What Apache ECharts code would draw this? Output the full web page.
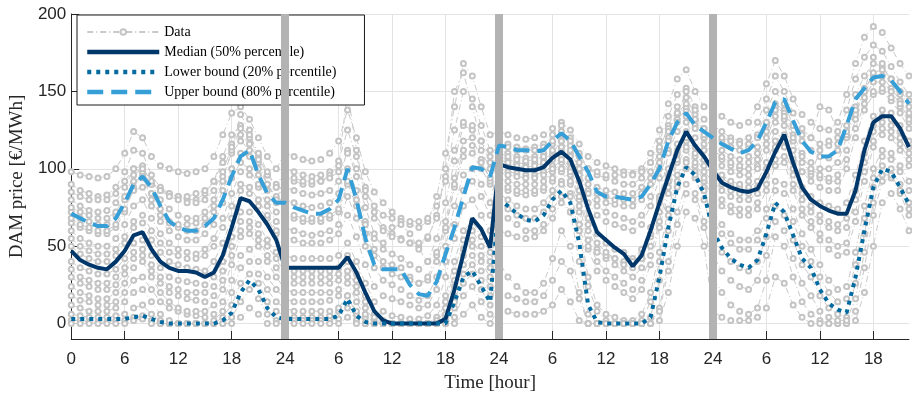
<!DOCTYPE html>
<html>
<head>
<meta charset="utf-8">
<script src="https://cdn.jsdelivr.net/npm/echarts@6/dist/echarts.min.js"></script>
<style>html,body{margin:0;padding:0;background:#fff}#c{width:912px;height:401px}</style>
</head>
<body>
<div id="c"></div>
<script>
// Time index [hour], four consecutive days (last day truncated)
var hours = [0,1,2,3,4,5,6,7,8,9,10,11,12,13,14,15,16,17,18,19,20,21,22,23,
24,25,26,27,28,29,30,31,32,33,34,35,36,37,38,39,40,41,42,43,44,45,46,47,
48,49,50,51,52,53,54,55,56,57,58,59,60,61,62,63,64,65,66,67,68,69,70,71,
72,73,74,75,76,77,78,79,80,81,82,83,84,85,86,87,88,89,90,91,92,93,94];
var xTicks = [0,6,12,18,24,30,36,42,48,54,60,66,72,78,84,90];
var yTicks = [0,50,100,150,200];
var dayBoundaries = [24,48,72];

var median = [47,41,38,36,35,40,47,57,59,48,40,36,34,34,33,30,33,44,62,81,79,72,64,54,
36,36,36,36,36,36,36,43,33,20,8,2,0,0,0,0,0,0,3,22,45,68,61,49,
103,101,100,99,99,101,107,111,106,92,74,59,54,49,45,37,44,60,78,95,112,124,115,108,
99,91,88,86,85,87,98,111,122,104,88,80,76,73,71,71,86,112,130,134,134,126,114];

var lower = [3,3,3,3,3,3,3,4,5,3,1,0,0,0,0,0,0,2,7,20,28,22,10,4,
3,3,3,3,3,3,5,16,5,1,0,0,0,0,0,0,0,0,0,14,30,34,24,14,
80,76,71,67,66,70,80,86,78,52,12,1,0,0,0,0,0,4,30,62,88,101,96,84,
60,49,42,38,36,41,58,78,72,57,42,36,22,13,9,7,30,60,88,100,98,88,77];

var upper = [71,68,65,63,63,68,78,90,95,88,76,66,62,60,60,63,68,80,95,108,112,96,84,78,
78,75,73,71,71,74,80,100,80,55,38,35,35,35,25,19,18,27,45,62,82,101,100,95,
115,114,112,112,111,112,118,123,118,108,98,85,82,82,81,80,82,90,100,118,130,136,128,124,
120,116,113,110,112,118,130,143,145,131,118,111,108,108,112,128,145,152,159,160,157,150,142];

// Individual price scenarios (gray "Data" curves)
var data01 = [98,96,95,94,95,100,110,124,120,108,102,100,98,97,98,100,108,122,136,140,132,120,108,100,
110,108,106,105,106,110,118,138,120,98,85,78,72,68,64,62,66,82,110,140,168,160,140,122,
124,122,120,119,120,122,126,130,125,116,108,104,102,100,98,97,100,110,125,142,158,164,150,140,
138,134,130,128,130,140,155,170,160,145,135,130,126,125,130,148,168,185,192,188,178,168,160];
var data02 = [90,86,84,82,83,88,98,112,110,96,88,84,82,80,80,84,92,108,122,128,120,108,96,88,
100,98,96,95,96,98,105,125,108,88,72,62,58,55,52,50,55,70,95,125,150,145,128,112,
118,116,114,113,114,116,122,128,120,110,100,96,94,92,90,90,94,104,118,134,148,152,140,132,
128,124,120,118,120,130,145,160,150,136,126,120,116,115,120,138,158,172,180,176,166,156,148];
var data03 = [80,76,73,72,73,78,88,100,102,90,80,74,70,68,68,72,80,95,110,118,112,100,90,82,
88,86,84,83,84,86,92,112,95,75,58,48,45,42,38,35,40,55,78,105,128,125,112,100,
112,110,108,107,108,110,116,122,115,104,94,88,86,85,84,84,88,98,112,128,140,146,135,126,
122,118,114,112,114,122,138,150,142,128,118,112,108,107,112,128,148,160,168,166,158,150,140];
var data04 = [72,68,66,64,64,70,80,92,94,84,74,66,62,60,60,64,72,86,100,110,108,96,86,78,
80,78,76,75,76,78,84,100,86,66,48,40,38,36,30,26,28,40,60,88,108,110,100,90,
108,106,104,103,104,106,110,118,110,98,86,80,78,77,76,76,80,90,104,120,132,138,128,120,
116,112,108,106,108,114,128,142,138,122,110,104,100,100,104,120,140,152,160,160,152,144,134];
var data05 = [60,55,52,50,50,55,64,76,80,68,58,52,48,46,45,48,55,68,84,98,96,88,76,66,
62,60,58,57,58,60,64,82,68,50,36,28,25,22,18,15,18,30,50,76,96,100,90,78,
104,102,100,99,100,102,106,112,104,92,78,70,66,64,62,60,64,76,94,112,124,130,120,112,
106,102,98,96,96,102,116,130,128,112,98,92,88,86,86,100,120,138,148,150,144,136,126];
var data06 = [50,45,42,40,40,44,52,62,65,54,46,40,38,36,35,34,40,52,68,86,84,76,68,58,
44,42,42,42,42,42,44,52,40,26,14,8,5,4,3,3,5,12,30,55,76,80,70,60,
100,98,97,96,96,98,102,108,100,86,68,58,52,48,46,42,48,62,82,100,116,124,114,106,
100,94,90,88,88,92,104,118,122,104,88,82,78,76,74,78,96,118,134,138,136,128,118];
var data07 = [40,36,34,32,32,35,42,52,54,44,36,30,28,27,26,25,30,40,56,72,72,64,54,46,
36,34,34,34,34,34,36,44,32,18,6,2,0,0,0,0,0,4,18,40,60,66,56,46,
94,92,90,90,90,92,98,104,96,80,60,48,42,38,34,30,36,50,72,92,110,118,108,98,
92,86,82,80,80,84,96,112,114,96,80,72,66,62,60,62,80,104,124,130,128,120,110];
var data08 = [30,26,24,22,22,25,32,42,44,34,26,20,18,16,15,14,18,28,44,60,62,54,44,36,
28,26,26,26,26,26,28,34,24,10,2,0,0,0,0,0,0,0,10,28,48,54,44,36,
88,86,84,83,84,86,92,98,90,72,48,34,28,24,20,16,22,38,62,84,104,112,102,92,
82,76,72,70,70,74,86,102,104,86,70,62,54,48,44,46,66,92,114,122,120,112,102];
var data09 = [18,15,14,12,12,14,20,28,30,22,14,10,8,6,5,4,6,14,28,44,48,40,30,22,
16,14,14,14,14,15,18,26,14,4,0,0,0,0,0,0,0,0,4,18,38,44,34,24,
84,80,76,74,74,78,86,92,84,64,30,12,6,4,2,2,6,20,46,74,96,106,98,88,
72,64,58,54,54,60,74,92,90,74,58,48,38,28,22,24,46,76,100,112,110,102,92];
var data10 = [6,5,4,4,4,5,6,10,12,6,2,0,0,0,0,0,0,4,12,26,32,26,14,8,
5,4,4,4,4,5,8,18,6,0,0,0,0,0,0,0,0,0,0,10,26,32,22,12,
72,68,64,60,60,64,74,82,72,40,6,0,0,0,0,0,0,4,28,60,88,100,94,80,
58,46,40,36,34,40,56,76,70,54,38,30,18,10,6,4,26,58,88,102,100,90,78];
var data11 = [2,2,1,1,1,2,2,4,5,2,0,0,0,0,0,0,0,0,4,14,22,16,6,2,
2,2,2,2,2,2,3,10,2,0,0,0,0,0,0,0,0,0,0,4,18,24,14,6,
40,30,24,20,20,26,42,60,50,20,0,0,0,0,0,0,0,0,10,40,72,90,84,66,
30,20,12,8,6,10,28,56,50,30,14,6,2,0,0,0,8,36,70,92,94,84,70];
var data12 = [0,0,0,0,0,0,0,2,3,0,0,0,0,0,0,0,0,0,0,4,10,6,0,0,
0,0,0,0,0,0,0,4,0,0,0,0,0,0,0,0,0,0,0,0,6,12,4,0,
10,8,6,6,6,8,12,22,14,2,0,0,0,0,0,0,0,0,2,20,50,72,68,50,
8,4,2,2,2,4,10,30,26,12,4,0,0,0,0,0,2,20,50,78,84,74,60];
var data13 = [65,62,60,58,58,62,72,88,96,80,70,65,64,64,65,68,76,92,112,135,125,104,90,80,
95,92,90,90,92,96,102,150,112,82,68,60,56,54,52,52,56,68,100,150,162,140,118,104,
60,58,56,55,56,60,68,78,72,60,50,46,44,42,40,40,44,56,80,110,135,150,138,120,
100,96,92,90,92,100,112,124,118,106,98,96,112,118,116,122,135,150,172,168,158,148,136];
var data14 = [55,50,47,45,45,48,56,66,70,60,52,46,44,42,42,44,50,62,76,90,88,80,70,60,
56,54,52,52,52,54,58,70,56,38,24,18,16,14,12,10,12,22,40,64,86,92,82,70,
98,96,95,94,94,96,100,106,98,82,64,52,46,42,38,36,42,58,78,96,112,120,110,102,
96,90,86,84,84,88,100,114,118,100,84,76,70,66,64,68,86,110,128,134,132,124,114];
var data15 = [85,82,80,80,80,84,92,100,98,90,86,84,82,82,84,86,92,104,116,122,116,106,96,90,
96,94,92,92,92,94,98,110,100,86,76,70,68,66,66,66,68,76,92,112,130,128,118,108,
116,114,112,112,112,114,118,124,118,108,100,98,96,96,96,96,98,104,114,126,136,140,132,126,
124,120,118,116,116,120,130,140,136,128,122,120,140,138,124,124,138,150,162,164,158,150,144];
var data16 = [35,30,28,26,26,30,36,46,48,38,30,24,22,20,20,20,24,34,50,66,66,58,50,42,
32,30,30,30,30,30,32,40,28,14,4,0,0,0,0,0,0,2,14,34,54,60,50,40,
90,88,86,86,86,88,94,100,92,76,54,40,34,30,26,22,28,44,66,88,106,114,104,94,
86,80,76,74,74,78,90,106,108,90,74,66,58,54,50,52,72,98,118,126,124,116,106];
var data17 = [75,72,70,68,68,72,82,96,100,92,86,82,80,78,78,80,86,98,114,126,122,110,98,88,
70,68,66,66,66,68,72,90,76,58,44,36,32,30,28,26,30,44,66,94,118,120,106,92,
106,104,102,101,102,104,108,114,108,96,84,76,72,70,68,66,70,82,100,118,130,134,126,116,
110,106,102,100,100,106,120,134,132,118,104,98,94,92,92,106,126,142,150,152,146,140,130];
var data18 = [24,20,18,16,16,20,26,36,40,30,20,14,10,8,8,8,12,22,38,56,58,50,40,30,
22,20,20,20,20,20,22,30,20,6,0,0,0,0,0,0,0,0,6,24,44,50,40,30,
78,74,70,68,68,72,82,90,82,60,24,8,2,0,0,0,2,14,40,70,92,104,96,86,
66,58,52,48,48,54,68,86,84,66,50,40,30,20,14,16,38,68,94,108,106,98,86];
var data19 = [68,64,62,60,60,64,74,86,88,76,66,60,56,54,54,58,64,78,94,104,100,90,80,72,
72,70,68,68,68,70,74,92,80,64,55,52,62,64,58,48,40,46,62,90,112,115,104,94,
110,108,106,105,106,108,112,118,112,100,90,84,82,80,80,80,84,94,108,124,136,142,132,122,
112,108,104,102,104,110,124,138,134,120,108,100,96,94,96,112,132,146,156,156,150,142,132];
var data20 = [12,10,8,8,8,10,14,20,22,14,6,2,0,0,0,0,2,8,20,36,40,32,22,14,
10,8,8,8,8,8,10,18,8,0,0,0,0,0,0,0,0,0,2,14,32,38,28,18,
20,18,16,14,14,18,28,40,34,16,0,0,0,0,0,0,0,0,8,34,64,84,80,62,
44,34,28,24,22,28,44,66,60,42,26,18,8,4,2,2,16,46,78,96,96,86,74];
var scenarios = [data01,data02,data03,data04,data05,data06,data07,data08,data09,data10,
                 data11,data12,data13,data14,data15,data16,data17,data18,data19,data20];

function pairs(vals){ return hours.map(function(h,i){ return [h, vals[i]]; }); }

var series = [];
scenarios.forEach(function(s){
  series.push({
    name: 'Data', type: 'line', data: pairs(s), z: 1,
    symbol: 'emptyCircle', symbolSize: 5,
    lineStyle: { color: '#c9c9c9', width: 1, type: [6,3,1,3] },
    itemStyle: { color: '#c4c4c4', borderColor: '#c4c4c4', borderWidth: 1 },
    emphasis: { disabled: true }, silent: true
  });
});
series.push({
  name: 'Median (50% percentile)', type: 'line', data: pairs(median), z: 3,
  symbol: 'none', lineStyle: { color: '#00376b', width: 4 },
  itemStyle: { color: '#00376b' }, emphasis: { disabled: true }, silent: true
});
series.push({
  name: 'Lower bound (20% percentile)', type: 'line', data: pairs(lower), z: 4,
  symbol: 'none', lineStyle: { color: '#006aa1', width: 4, type: [4,5], cap: 'butt' },
  itemStyle: { color: '#006aa1' }, emphasis: { disabled: true }, silent: true
});
series.push({
  name: 'Upper bound (80% percentile)', type: 'line', data: pairs(upper), z: 5,
  symbol: 'none', lineStyle: { color: '#379fd7', width: 4, type: [16,8], cap: 'butt' },
  itemStyle: { color: '#379fd7' }, emphasis: { disabled: true }, silent: true,
  markLine: {
    silent: true, symbol: ['none','none'], label: { show: false }, animation: false,
    lineStyle: { color: '#b3b3b3', width: 8, type: 'solid' },
    emphasis: { disabled: true },
    data: dayBoundaries.map(function(d){ return { xAxis: d }; })
  }
});

var chart = echarts.init(document.getElementById('c'), null, { renderer: 'canvas' });
chart.setOption({
  animation: false,
  backgroundColor: '#ffffff',
  grid: { left: 69, right: 3, top: 14, bottom: 62, containLabel: false },
  legend: {
    orient: 'vertical', left: 77, top: 15,
    data: [
      { name: 'Data' },
      { name: 'Median (50% percentile)', itemStyle: { opacity: 0 }, lineStyle: { width: 4.5 } },
      { name: 'Lower bound (20% percentile)', itemStyle: { opacity: 0 }, lineStyle: { width: 4.5 } },
      { name: 'Upper bound (80% percentile)', itemStyle: { opacity: 0 }, lineStyle: { width: 4.5 } }
    ],
    itemWidth: 72, itemHeight: 7, itemGap: 6,
    padding: [10, 28, 6, 8],
    backgroundColor: '#ffffff', borderColor: '#1a1a1a', borderWidth: 1,
    textStyle: { fontFamily: 'Liberation Serif', fontSize: 14, color: '#000' },
    selectedMode: false
  },
  xAxis: {
    type: 'value', min: 0, max: 94, interval: 6,
    name: 'Time [hour]', nameLocation: 'middle', nameGap: 35,
    nameTextStyle: { fontFamily: 'Liberation Serif', fontSize: 19, color: '#262626' },
    axisLine: { onZero: false, lineStyle: { color: '#262626', width: 1 } },
    axisTick: { inside: true, length: 8, customValues: xTicks, lineStyle: { color: '#262626' } },
    axisLabel: {
      customValues: xTicks,
      fontFamily: 'Liberation Sans', fontSize: 17, color: '#262626', margin: 12,
      formatter: function(v){ return v === 0 ? '0' : (v % 24 === 0 ? '24' : String(v % 24)); }
    },
    splitLine: { show: true, lineStyle: { color: '#e3e3e3', width: 1 } }
  },
  yAxis: {
    type: 'value', min: -10, max: 200,
    name: 'DAM price [€/MWh]', nameLocation: 'middle', nameGap: 33,
    nameTextStyle: { fontFamily: 'Liberation Serif', fontSize: 19, color: '#262626' },
    axisLine: { show: true, onZero: false, lineStyle: { color: '#262626', width: 1 } },
    axisTick: { show: true, inside: true, length: 8, customValues: yTicks, lineStyle: { color: '#262626' } },
    axisLabel: { customValues: yTicks, fontFamily: 'Liberation Sans', fontSize: 17, color: '#262626', margin: 5 },
    splitLine: { show: true, lineStyle: { color: '#e3e3e3', width: 1 } }
  },
  series: series
});
</script>
</body>
</html>
